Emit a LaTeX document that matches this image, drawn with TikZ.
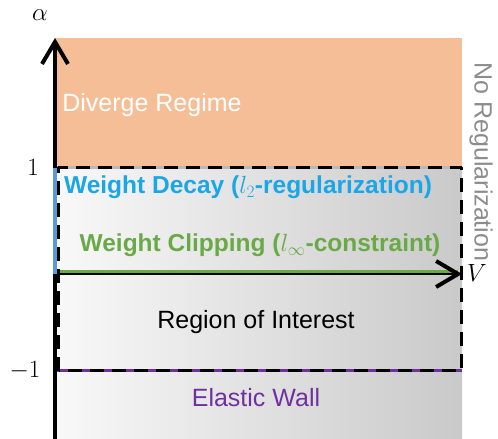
\documentclass[tikz,border=0pt]{standalone}
\usepackage[no-math]{fontspec}
\setmainfont{Liberation Sans}
\usetikzlibrary{arrows.meta}
\definecolor{divorange}{RGB}{245,190,151}
\definecolor{decayblue}{RGB}{27,166,232}
\definecolor{decayline}{RGB}{91,155,213}
\definecolor{clipgreen}{RGB}{106,170,70}
\definecolor{wallpurple}{RGB}{112,48,160}
\definecolor{noreggray}{RGB}{140,140,140}
\begin{document}
\begin{tikzpicture}[x=1pt,y=1pt,line join=round,
  lbl/.style={font=\fontsize{25}{29}\selectfont},
  boldlbl/.style={font=\fontsize{24.5}{28}\selectfont\bfseries},
  mathlbl/.style={font=\fontsize{26}{30}\selectfont},
  barb/.style={-{Straight Barb[length=22pt,width=26pt,line width=4pt]}}]
\def\xl{55} \def\xr{462}
\def\yt{401} \def\yone{271} \def\yzero{165} \def\ymone{68}
\useasboundingbox (0,0) rectangle (498,439);
\coordinate (B) at (\xl,0);
\coordinate (T) at (\xl,\yt);
\coordinate (O) at (\xl,\yzero);
\coordinate (E) at (\xr,\yzero);
\coordinate (P1) at (\xl,\yone);
\coordinate (Q1) at (\xr,\yone);
\coordinate (P2) at (\xl,\ymone);
\coordinate (Q2) at (\xr,\ymone);
% regions
\shade[left color=gray!5, right color=gray!42] (B) rectangle (Q1);
\fill[divorange] (P1) rectangle (\xr,\yt);
\draw[gray!55, line width=3pt] (P1) -- (Q1);
% lines of the regimes
\draw[clipgreen, line width=3pt] (\xl,\yzero+2.5) -- (\xr-4,\yzero+2.5);
\draw[barb, line width=2pt] (O) -- (E);
\draw[wallpurple, line width=3pt] (P2) -- (Q2);
\draw[line width=3pt, dash pattern=on 14pt off 8pt] (58.5,\ymone) rectangle (461,\yone);
\draw[barb, line width=4pt] (B) -- (T);
\draw[decayline, line width=3.5pt] (O) -- (P1);
% labels
\node[mathlbl] (alpha) at (40,424) {$\alpha$};
\node[mathlbl] (one) at (33,272) {$1$};
\node[mathlbl] (mone) at (25,68) {$-1$};
\node[mathlbl] (v) at (477,166) {$V$};
\node[lbl, text=white] (diverge) at (152,334) {Diverge Regime};
\node[boldlbl, text=decayblue] (decay) at (248,252) {Weight Decay ($l_2$-regularization)};
\node[boldlbl, text=clipgreen] (clip) at (260,194) {Weight Clipping ($l_\infty$-constraint)};
\node[lbl] (roi) at (256,117) {Region of Interest};
\node[lbl, text=wallpurple] (wall) at (256,41) {Elastic Wall};
\node[lbl, text=noreggray, rotate=-90] (noreg) at (481,277) {No Regularization};
\end{tikzpicture}
\end{document}
